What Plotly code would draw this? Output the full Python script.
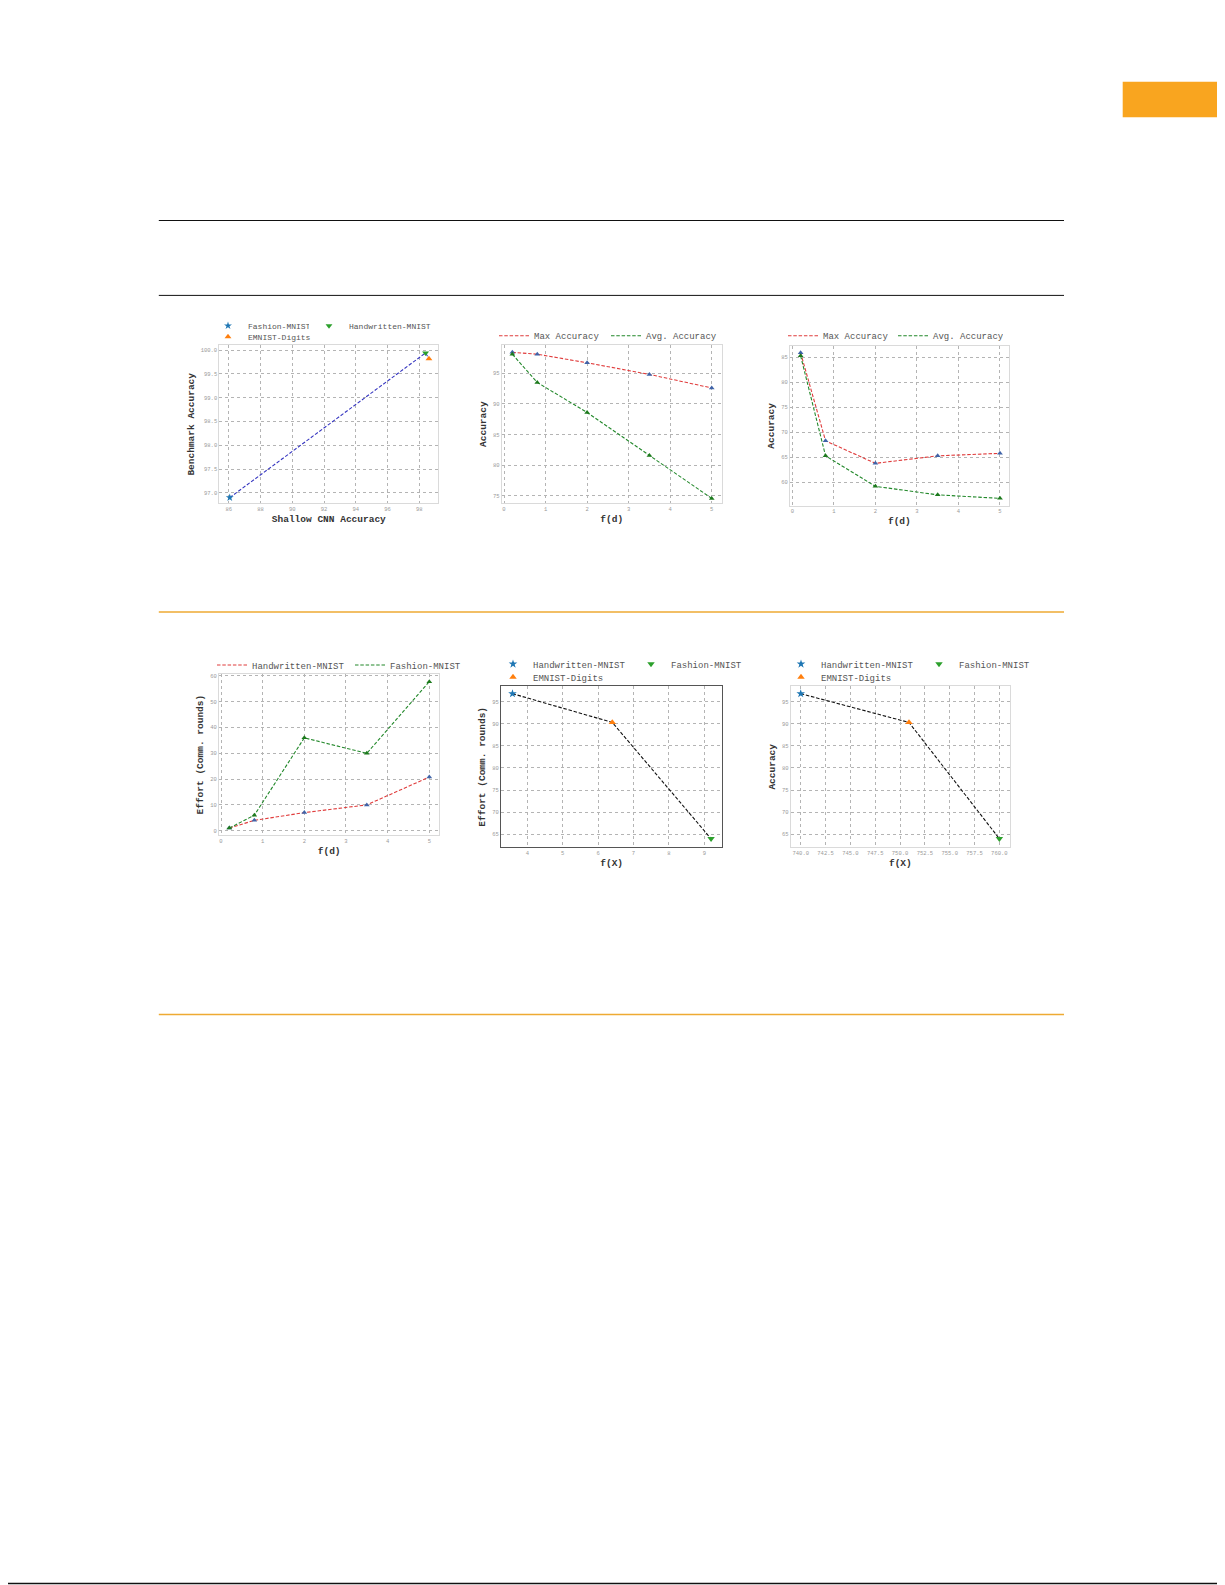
import plotly.graph_objects as go

W, H = 1225, 1585
PAD = 8  # default page margin around the plot div

# panel a: shallow CNN vs benchmark
a_names = ['Fashion-MNIST', 'Handwritten-MNIST', 'EMNIST-Digits']
a_shallow = [86.06, 98.40, 98.61]
a_bench = [96.90, 99.94, 99.82]

# panels b, c, d share the same f(d) values
fd = [0.2, 0.8, 2, 3.5, 5]
b_max = [98.4, 98.1, 96.7, 94.8, 92.6]
b_avg = [98.1, 93.5, 88.6, 81.6, 74.6]
c_max = [85.9, 68.3, 63.8, 65.3, 65.8]
c_avg = [85.3, 65.3, 59.2, 57.5, 56.8]
d_hand = [1.0, 4.0, 7.0, 10.0, 20.8]
d_fash = [1.0, 6.0, 36.0, 30.0, 57.8]

# panels e, f
e_names = ['Handwritten-MNIST', 'EMNIST-Digits', 'Fashion-MNIST']
e_fx = [3.58, 6.40, 9.19]
e_effort = [96.8, 90.3, 64.0]
f_fx = [740.0, 750.9, 760.0]
f_acc = [96.8, 90.3, 64.0]

MONO = 'Liberation Mono'
BLUE, ORANGE, GREEN = '#1f77b4', '#ff7f0e', '#2ca02c'
RED_LINE, GREEN_LINE = '#e03c3c', '#22882a'
DASH = '3.5px,1.8px'
SYM = {'Fashion-MNIST': 'star', 'Handwritten-MNIST': 'triangle-down', 'EMNIST-Digits': 'triangle-up'}
COL = {'Fashion-MNIST': BLUE, 'Handwritten-MNIST': GREEN, 'EMNIST-Digits': ORANGE}


def fx(p):
    return (p - PAD) / W


def fy(p):
    return 1 - (p - PAD) / H


def axes(left, right, top, bottom, xr, yr, xt, yt, xfmt, yfmt, xtitle, ytitle, frame='#dadada'):
    grid = dict(showgrid=True, gridcolor='#b4b4b4', griddash='dot', gridwidth=0.8,
                showline=True, linecolor=frame, linewidth=1, mirror=True, zeroline=False,
                ticks='', tickfont=dict(family=MONO, size=5.5, color='#9a9a9a'))
    xa = dict(grid, domain=[fx(left), fx(right)], range=xr, tickvals=xt, tickformat=xfmt,
              title=dict(text=xtitle, standoff=3,
                         font=dict(family=MONO, size=9.5, color='#333', weight='bold')))
    ya = dict(grid, domain=[fy(bottom), fy(top)], range=yr, tickvals=yt, tickformat=yfmt,
              title=dict(text=ytitle, standoff=4,
                         font=dict(family=MONO, size=9.5, color='#333', weight='bold')))
    return xa, ya


fig = go.Figure()

# --- panel a
fig.add_trace(go.Scatter(x=a_shallow, y=a_bench, mode='lines', showlegend=False,
                         line=dict(color='#3535c0', dash=DASH, width=1.1), xaxis='x', yaxis='y'))
a_legs = ['legend', 'legend10', 'legend2']
for i, name in enumerate(a_names):
    fig.add_trace(go.Scatter(x=[a_shallow[i]], y=[a_bench[i]], mode='markers', name=name,
                             marker=dict(symbol=SYM[name], color=COL[name], size=6),
                             legend=a_legs[i], xaxis='x', yaxis='y'))

# --- panels b, c, d (dashed lines, triangle markers)
def line_panel(ax, ay, ys, names, colors, mcolors, leg):
    for y, n, c in zip(ys, names, colors):
        fig.add_trace(go.Scatter(x=fd, y=y, mode='lines', name=n, legend=leg,
                                 line=dict(color=c, dash=DASH, width=1.1), xaxis=ax, yaxis=ay))
    for y, mc in zip(ys, mcolors):
        fig.add_trace(go.Scatter(x=fd, y=y, mode='markers', showlegend=False,
                                 marker=dict(symbol='triangle-up', color=mc, size=5),
                                 xaxis=ax, yaxis=ay))


line_panel('x2', 'y2', [b_max, b_avg], ['Max Accuracy', 'Avg. Accuracy'],
           [RED_LINE, GREEN_LINE], ['#3f63a8', '#1d7a1d'], 'legend3')
line_panel('x3', 'y3', [c_max, c_avg], ['Max Accuracy', 'Avg. Accuracy'],
           [RED_LINE, GREEN_LINE], ['#3f63a8', '#1d7a1d'], 'legend4')
line_panel('x4', 'y4', [d_hand, d_fash], ['Handwritten-MNIST', 'Fashion-MNIST'],
           [RED_LINE, GREEN_LINE], ['#3f63a8', '#1d7a1d'], 'legend5')

# --- panels e, f
e_sym = ['star', 'triangle-up', 'triangle-down']
e_col = [BLUE, ORANGE, GREEN]
for ax, ay, xs, ys, legs in [('x5', 'y5', e_fx, e_effort, ['legend6', 'legend7', 'legend6']),
                             ('x6', 'y6', f_fx, f_acc, ['legend8', 'legend9', 'legend8'])]:
    fig.add_trace(go.Scatter(x=xs, y=ys, mode='lines', showlegend=False,
                             line=dict(color='#111', dash=DASH, width=1.1), xaxis=ax, yaxis=ay))
    for i in [0, 2, 1]:
        fig.add_trace(go.Scatter(x=[xs[i]], y=[ys[i]], mode='markers', name=e_names[i],
                                 legend=legs[i], marker=dict(symbol=e_sym[i], color=e_col[i], size=6.5),
                                 xaxis=ax, yaxis=ay))

xa1, ya1 = axes(219.3, 438.3, 345.3, 503.3, [85.4, 99.2], [96.78, 100.1],
                [86, 88, 90, 92, 94, 96, 98], [97, 97.5, 98, 98.5, 99, 99.5, 100],
                'd', '.1f', 'Shallow CNN Accuracy', 'Benchmark Accuracy')
xa2, ya2 = axes(501.7, 721.7, 345, 503.3, [-0.056, 5.24], [73.8, 99.6],
                [0, 1, 2, 3, 4, 5], [75, 80, 85, 90, 95], 'd', 'd', 'f(d)', 'Accuracy')
xa3, ya3 = axes(790, 1008.7, 346, 505.7, [-0.056, 5.21], [55.33, 87.27],
                [0, 1, 2, 3, 4, 5], [60, 65, 70, 75, 80, 85], 'd', 'd', 'f(d)', 'Accuracy')
xa4, ya4 = axes(219, 439.3, 674.3, 835, [-0.048, 5.24], [-1.68, 60.65],
                [0, 1, 2, 3, 4, 5], [0, 10, 20, 30, 40, 50, 60], 'd', 'd', 'f(d)',
                'Effort (Comm. rounds)')
xa5, ya5 = axes(501, 722.3, 686.3, 847.3, [3.256, 9.508], [62.06, 98.47],
                [4, 5, 6, 7, 8, 9], [65, 70, 75, 80, 85, 90, 95], 'd', 'd', 'f(X)',
                'Effort (Comm. rounds)', frame='#555555')
xa6, ya6 = axes(790.7, 1010, 686.3, 847.3, [738.99, 761.07], [62.06, 98.47],
                [740, 742.5, 745, 747.5, 750, 752.5, 755, 757.5, 760], [65, 70, 75, 80, 85, 90, 95],
                '.1f', 'd', 'f(X)', 'Accuracy')


def leg(x, y, entry, size=9):
    return dict(x=fx(x), y=fy(y), xanchor='left', yanchor='middle', orientation='h',
                bgcolor='rgba(0,0,0,0)', itemwidth=30, entrywidth=entry, tracegroupgap=0,
                font=dict(family=MONO, size=size, color='#555'))


page_lines = [(220.5, '#111', 1), (295.4, '#111', 1), (612, '#eeaa33', 1.5), (1014.5, '#eeaa33', 1.5)]
shapes = [dict(type='line', xref='paper', yref='paper', x0=fx(158.8), x1=fx(1064), y0=fy(yp), y1=fy(yp),
               line=dict(color=c, width=w)) for yp, c, w in page_lines]
shapes += [
    dict(type='line', xref='paper', yref='paper', x0=0, x1=1, y0=fy(1583.5), y1=fy(1583.5),
         line=dict(color='#111', width=1.5)),
    dict(type='rect', xref='paper', yref='paper', x0=fx(1122.7), x1=1, y0=fy(117.3), y1=fy(81.7),
         line=dict(width=0), fillcolor='#f9a51f'),
]

fig.update_layout(
    width=W, height=H, margin=dict(l=0, r=0, t=0, b=0),
    paper_bgcolor='white', plot_bgcolor='white',
    xaxis=dict(xa1, anchor='y'), yaxis=dict(ya1, anchor='x'),
    xaxis2=dict(xa2, anchor='y2'), yaxis2=dict(ya2, anchor='x2'),
    xaxis3=dict(xa3, anchor='y3'), yaxis3=dict(ya3, anchor='x3'),
    xaxis4=dict(xa4, anchor='y4'), yaxis4=dict(ya4, anchor='x4'),
    xaxis5=dict(xa5, anchor='y5'), yaxis5=dict(ya5, anchor='x5'),
    xaxis6=dict(xa6, anchor='y6'), yaxis6=dict(ya6, anchor='x6'),
    legend=leg(208, 325.7, 56, 8),
    legend10=leg(309, 325.7, 90, 8),
    legend2=leg(208, 336.7, 90, 8),
    legend3=leg(494, 335.7, 67),
    legend4=leg(783, 335.7, 65),
    legend5=leg(212, 665, 93),
    legend6=leg(493, 664, 93),
    legend7=leg(493, 677, 93),
    legend8=leg(781, 664, 93),
    legend9=leg(781, 677, 93),
    shapes=shapes,
)

fig.write_html("out.html")
